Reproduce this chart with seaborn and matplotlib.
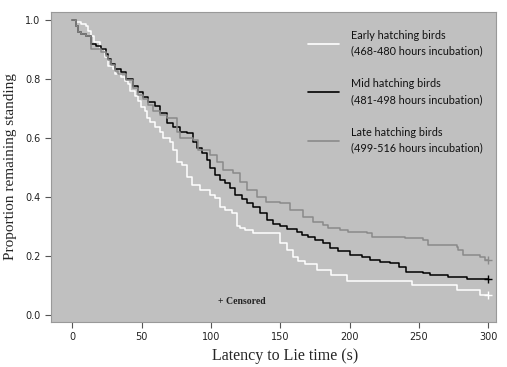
import pandas as pd
import seaborn as sns
import numpy as np
import matplotlib.pyplot as plt
from matplotlib.lines import Line2D

# survival steps (time in s, proportion still standing)
early_t = [0, 2.7, 6.3, 9.9, 11.3, 13.5, 15.6, 20, 23.6, 25.7, 29.3, 30.8, 35, 38, 40.2, 41.6, 45.2,
           47.4, 49.5, 52.4, 54, 56, 60, 63.2, 65.4, 70.4, 72.6, 75.5, 79, 82.6, 86.2, 92, 99.3, 102.8,
           106.5, 110, 115, 118.7, 121, 124.5, 130.3, 150, 154.8, 159, 163, 167.8, 176.4, 187, 198,
           245, 277.4, 294, 300]
early_s = [1.0, 0.993, 0.984, 0.977, 0.96, 0.943, 0.923, 0.9, 0.872, 0.842, 0.832, 0.815, 0.805, 0.791,
           0.781, 0.757, 0.74, 0.723, 0.703, 0.69, 0.666, 0.653, 0.636, 0.619, 0.599, 0.585, 0.558, 0.518,
           0.508, 0.467, 0.44, 0.423, 0.406, 0.396, 0.366, 0.356, 0.345, 0.30, 0.295, 0.288, 0.278, 0.244,
           0.22, 0.197, 0.185, 0.173, 0.153, 0.136, 0.116, 0.103, 0.085, 0.069, 0.069]

mid_t = [0, 2.7, 4, 6.3, 9.9, 13.5, 17, 20.7, 24.3, 25.7, 27.9, 30.8, 35, 38.7, 43.8, 47.4, 51, 54.6,
         59.6, 63.2, 68, 72.6, 77.6, 82.6, 87, 89.9, 93.5, 97, 99.3, 102.8, 106.5, 110, 113.7, 117.3,
         122.3, 126, 130.3, 135.3, 140.4, 145, 149.8, 155, 162, 166, 170, 175, 180.8, 185.8, 191.6,
         200.2, 208.9, 214.6, 221.8, 229, 236, 241, 253, 258, 271, 284.6, 300]
mid_s = [1.0, 0.977, 0.957, 0.95, 0.943, 0.917, 0.91, 0.9, 0.883, 0.866, 0.85, 0.832, 0.822, 0.8, 0.774,
         0.754, 0.737, 0.72, 0.707, 0.683, 0.649, 0.636, 0.619, 0.615, 0.585, 0.565, 0.548, 0.525, 0.497,
         0.474, 0.457, 0.447, 0.43, 0.406, 0.393, 0.378, 0.366, 0.345, 0.322, 0.31, 0.30, 0.29, 0.281,
         0.272, 0.265, 0.254, 0.244, 0.227, 0.218, 0.204, 0.197, 0.187, 0.18, 0.177, 0.164, 0.146, 0.143,
         0.136, 0.129, 0.121, 0.121]

late_t = [0, 2.7, 4, 6.3, 9.9, 13.5, 20.7, 24.3, 25.7, 28, 31, 33, 38.7, 43.8, 47.4, 51, 54.6, 58.2,
          63.2, 68, 75.5, 77.6, 87, 90.6, 99.3, 104.3, 108.6, 115.9, 120.9, 126, 133, 140, 150, 157,
          166.3, 173.6, 180.8, 184.4, 193, 198.8, 212.5, 216, 239.9, 252.9, 256.5, 277.4, 278, 282,
          294, 297.5, 300]
late_s = [1.0, 0.977, 0.957, 0.95, 0.943, 0.9, 0.89, 0.875, 0.862, 0.845, 0.825, 0.815, 0.795, 0.77,
          0.745, 0.73, 0.71, 0.69, 0.677, 0.666, 0.619, 0.599, 0.592, 0.558, 0.541, 0.518, 0.49, 0.48,
          0.45, 0.423, 0.40, 0.383, 0.379, 0.356, 0.333, 0.315, 0.305, 0.295, 0.288, 0.281, 0.278, 0.266,
          0.261, 0.254, 0.237, 0.231, 0.22, 0.204, 0.197, 0.187, 0.187]

groups = ['Early hatching birds\n(468-480 hours incubation)',
          'Mid hatching birds\n(481-498 hours incubation)',
          'Late hatching birds\n(499-516 hours incubation)']
colors = ['#ffffff', '#000000', '#8a8a8a']

df = pd.concat([
    pd.DataFrame({'time': early_t, 'surv': early_s, 'group': groups[0]}),
    pd.DataFrame({'time': mid_t, 'surv': mid_s, 'group': groups[1]}),
    pd.DataFrame({'time': late_t, 'surv': late_s, 'group': groups[2]}),
])

sns.set_style('ticks')
fig = plt.figure(figsize=(5.07, 3.67), dpi=100)
ax = fig.add_axes([0.1006, 0.1234, 0.8774, 0.8436])
ax.set_facecolor('#c0c0c0')

sns.lineplot(data=df, x='time', y='surv', hue='group', palette=dict(zip(groups, colors)),
             estimator=None, sort=False, drawstyle='steps-post', linewidth=1.1, legend=False, ax=ax)

# censor marks at the end of follow-up
for t, s, c in [(early_t, early_s, colors[0]), (mid_t, mid_s, colors[1]), (late_t, late_s, colors[2])]:
    ax.plot(t[-1], s[-1], marker='+', color=c, markersize=6, mew=1)

ax.text(122, 0.048, '+ Censored', family='Liberation Serif', fontsize=7, fontweight='bold', color='#222222',
        va='center', ha='center')

handles = [Line2D([], [], color=c, lw=1.2) for c in colors]
leg = ax.legend(handles, groups, loc='upper right', bbox_to_anchor=(0.993, 0.975), frameon=False,
                handlelength=2.8, handletextpad=1.17, labelspacing=2.0,
                prop={'family': 'Lato', 'size': 7.8})
for txt in leg.get_texts():
    txt.set_linespacing(1.55)
    txt.set_color('#111111')

ax.set_xlim(-15.4, 305.6)
ax.set_ylim(-0.022, 1.025)
ax.set_xticks([0, 50, 100, 150, 200, 250, 300])
ax.set_yticks([0.0, 0.2, 0.4, 0.6, 0.8, 1.0])
ax.set_yticklabels(['0.0', '0.2', '0.4', '0.6', '0.8', '1.0'])
ax.tick_params(labelsize=7, colors='#555555', labelcolor='#222222', length=4, width=0.8)
for sp in ax.spines.values():
    sp.set_color('#999999')
    sp.set_linewidth(0.8)
ax.set_xlabel('Latency to Lie time (s)', family='Liberation Serif', fontsize=11.5, labelpad=6)
ax.xaxis.set_label_coords(0.527, -0.085)
ax.set_ylabel('Proportion remaining standing', family='Liberation Serif', fontsize=11, labelpad=6)

fig.savefig('out.png', dpi=100)
